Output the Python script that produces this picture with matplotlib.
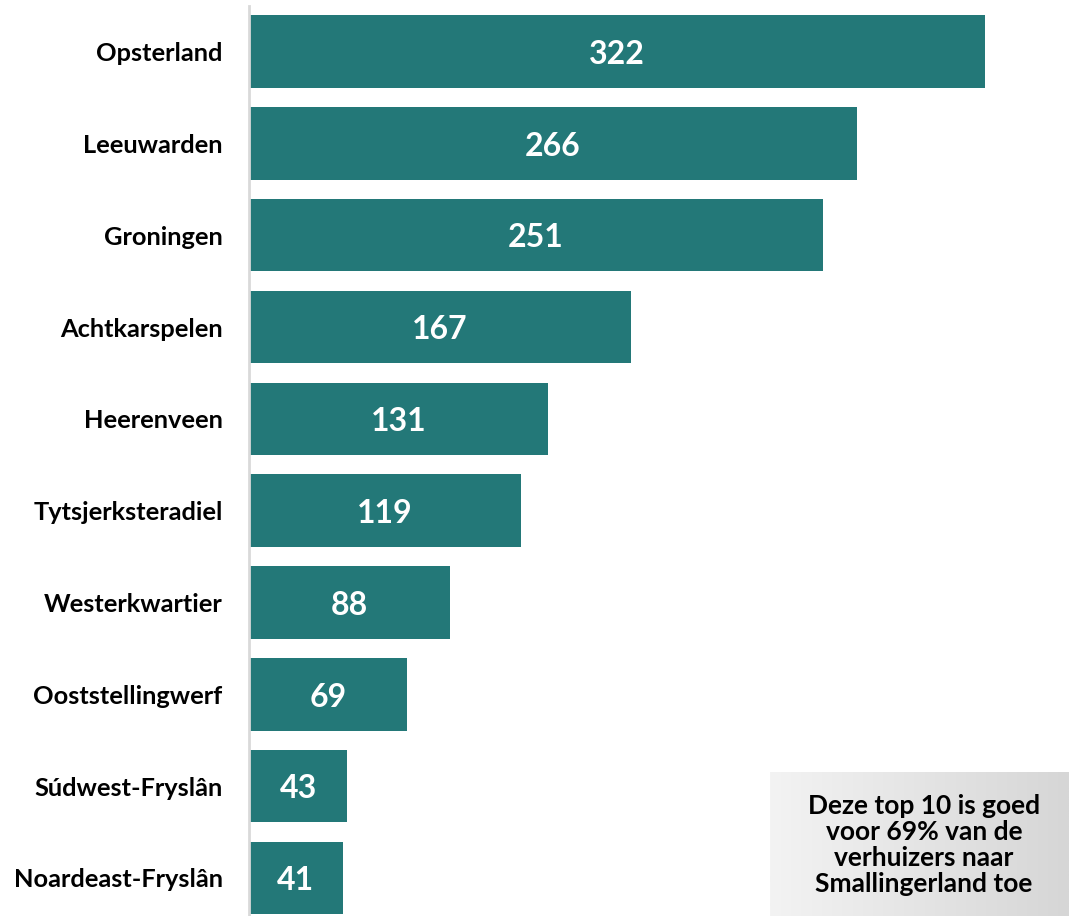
import numpy as np
from matplotlib import pyplot as plt

gemeenten = ['Opsterland', 'Leeuwarden', 'Groningen', 'Achtkarspelen', 'Heerenveen',
             'Tytsjerksteradiel', 'Westerkwartier', 'Ooststellingwerf',
             'Súdwest-Fryslân', 'Noardeast-Fryslân']
verhuizers = [322, 266, 251, 167, 131, 119, 88, 69, 43, 41]
note = 'Deze top 10 is goed\nvoor 69% van de\nverhuizers naar\nSmallingerland toe'

plt.rcParams['font.family'] = ['Lato', 'DejaVu Sans']
teal = '#237878'

W, H = 1069, 916
fig = plt.figure(figsize=(W / 100, H / 100), dpi=100)
left, top = 249, 5.6
ax = fig.add_axes([left / W, 0, 1 - left / W, 1 - top / H])

y = np.arange(len(gemeenten))
ax.barh(y, verhuizers, height=0.79, color=teal)
ax.set_xlim(0, (W - left) / 2.286)
ax.set_ylim(9.414, -0.5)

for yi, v in zip(y, verhuizers):
    ax.text(v / 2, yi + 0.03, str(v), color='white', fontsize=23, fontweight='bold',
            ha='center', va='center')

ax.set_yticks(y)
ax.set_yticklabels(gemeenten, fontsize=18.3, fontweight='bold')
ax.tick_params(axis='y', length=0, pad=19)
ax.set_xticks([])
for s in ['top', 'right', 'bottom']:
    ax.spines[s].set_visible(False)
ax.spines['left'].set_color('#d9d9d9')
ax.spines['left'].set_linewidth(2)

# grey box with gradient
bx0, bx1, by0, by1 = 770, 1069, 772, 916
bax = fig.add_axes([bx0 / W, 1 - by1 / H, (bx1 - bx0) / W, (by1 - by0) / H])
grad = np.linspace(0, 1, 256).reshape(1, -1)
bax.imshow(grad, aspect='auto', cmap=plt.matplotlib.colors.LinearSegmentedColormap.from_list(
    'g', ['#f3f3f3', '#d6d6d6']), extent=[0, 1, 0, 1])
bax.axis('off')
bax.text(0.515, 0.49, note, ha='center', va='center', fontsize=19, fontweight='bold',
         linespacing=1.1, color='black')

fig.savefig('out.png', dpi=100)
